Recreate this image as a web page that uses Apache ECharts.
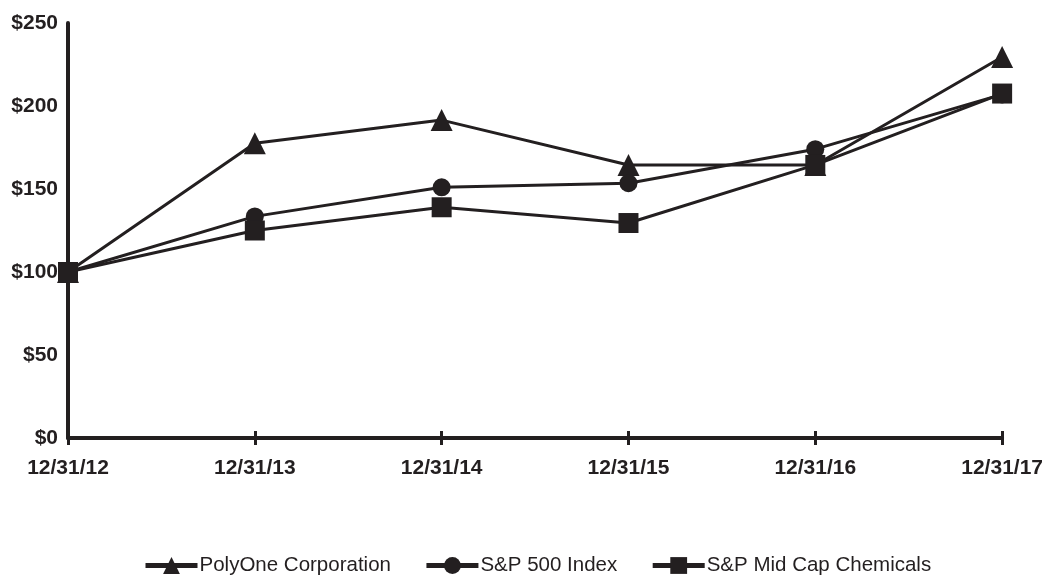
<!DOCTYPE html>
<html><head><meta charset="utf-8">
<script src="https://cdn.jsdelivr.net/npm/echarts@6/dist/echarts.min.js"></script>
<style>html,body{margin:0;padding:0;background:#fff}#c{width:1046px;height:576px}</style>
</head><body><div id="c"></div>
<script>
const categories = ['12/31/12','12/31/13','12/31/14','12/31/15','12/31/16','12/31/17'];
const polyOne = [100, 177.5, 191.5, 164.5, 164.5, 229.5];
const sp500 = [100, 133.5, 151, 153.5, 174, 207];
const midCapChem = [100, 125, 139, 129.5, 164.5, 207.5];
const yTicks = [0, 50, 100, 150, 200, 250];

const ink = '#231f20';
const chart = echarts.init(document.getElementById('c'));
function ser(name, data, symbol, size) {
  return {
    name, type: 'line', data, symbol, symbolSize: size,
    lineStyle: { color: ink, width: 3 },
    itemStyle: { color: ink },
    emphasis: { disabled: true }, animation: false
  };
}
chart.setOption({
  animation: false,
  grid: { left: 68, right: 43, top: 23, bottom: 138, containLabel: false },
  legend: {
    bottom: 0, left: 143, padding: 0, itemWidth: 52, itemHeight: 21, itemGap: 33,
    lineStyle: { width: 5, color: ink },
    textStyle: { fontFamily: 'Liberation Sans, Arial', fontSize: 20.5, color: ink, padding: [0, 0, 0, -3] },
    data: ['PolyOne Corporation', 'S&P 500 Index', 'S&P Mid Cap Chemicals']
  },
  xAxis: [{
    type: 'category', data: categories, boundaryGap: false,
    axisLine: { lineStyle: { color: ink, width: 4 } },
    axisTick: { show: true, length: 7, lineStyle: { color: ink, width: 3 } },
    axisLabel: { margin: 20, fontFamily: 'Liberation Sans, Arial', fontWeight: 'bold', fontSize: 21, color: ink }
  }, {
    type: 'category', data: categories, boundaryGap: false, position: 'bottom',
    axisLine: { show: false },
    axisTick: { show: true, inside: true, length: 7, lineStyle: { color: ink, width: 3 } },
    axisLabel: { show: false }
  }],
  yAxis: {
    type: 'value', min: 0, max: 250, interval: 50,
    splitLine: { show: false },
    axisLine: { show: true, lineStyle: { color: ink, width: 4 } },
    axisTick: { show: false },
    axisLabel: {
      margin: 10, fontFamily: 'Liberation Sans, Arial', fontWeight: 'bold', fontSize: 21, color: ink,
      formatter: v => yTicks.includes(v) ? '$' + v : ''
    }
  },
  series: [
    ser('PolyOne Corporation', polyOne, 'triangle', 22),
    ser('S&P 500 Index', sp500, 'circle', 18),
    ser('S&P Mid Cap Chemicals', midCapChem, 'rect', 20)
  ]
});
</script></body></html>
